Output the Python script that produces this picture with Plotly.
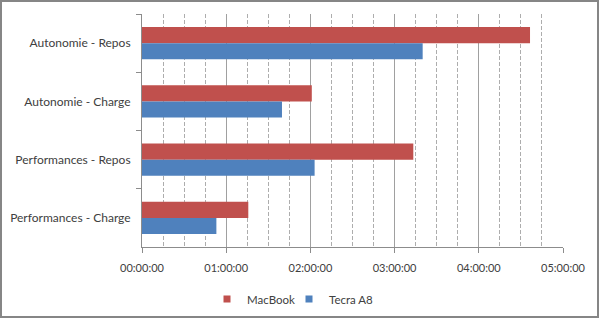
import plotly.graph_objects as go

categories = ["Autonomie - Repos", "Autonomie - Charge", "Performances - Repos", "Performances - Charge"]
macbook = ["04:36:30", "02:01:00", "03:13:20", "01:15:45"]
tecra = ["03:20:00", "01:39:45", "02:03:00", "00:53:00"]
series_names = ["MacBook", "Tecra A8"]
series_colors = ["#C0504D", "#4F81BD"]
tick_hours = [0, 1, 2, 3, 4, 5]
tick_labels = ["00:00:00", "01:00:00", "02:00:00", "03:00:00", "04:00:00", "05:00:00"]


def to_hours(s):
    h, m, sec = (int(p) for p in s.split(":"))
    return h + m / 60 + sec / 3600


W, H = 600, 319
L, R, T, B = 142, 37, 14, 72
pw, ph = W - L - R, H - T - B

fig = go.Figure()
for name, vals, col in zip(series_names, [macbook, tecra], series_colors):
    fig.add_trace(go.Bar(y=categories, x=[to_hours(v) for v in vals], orientation="h",
                         name=name, legendgroup=name, showlegend=False,
                         marker=dict(color=col, line=dict(width=0))))
legend_ids = ["legend", "legend2"]
for name, col, lg in zip(series_names, series_colors, legend_ids):
    fig.add_trace(go.Scatter(x=[None], y=[None], mode="markers", name=name, legendgroup=name,
                             legend=lg, marker=dict(symbol="square", size=7, color=col)))

font_color = "#404040"
legend_y = -(299 - (H - B)) / ph
legend_common = dict(orientation="h", xanchor="left", y=legend_y, yanchor="middle",
                     font=dict(size=11.5, color=font_color), itemwidth=30,
                     bgcolor="rgba(0,0,0,0)")
fig.update_layout(
    width=W, height=H,
    margin=dict(l=L, r=R, t=T, b=B, autoexpand=False),
    paper_bgcolor="white", plot_bgcolor="white",
    font=dict(family="Lato", size=11.5, color=font_color),
    barmode="group", bargap=0.45, bargroupgap=0,
    legend=dict(x=(207 - L) / pw, **legend_common),
    legend2=dict(x=(289 - L) / pw, **legend_common),
    showlegend=True,
)
fig.update_xaxes(
    range=[0, 5], tickvals=tick_hours, ticktext=tick_labels,
    tickfont=dict(size=11),
    showgrid=True, gridcolor="#A0A0A0", gridwidth=1,
    minor=dict(dtick=0.25, tick0=0, showgrid=True, gridcolor="#ADADAD",
               griddash="4px,2px", gridwidth=1),
    showline=True, linecolor="#8C8C8C", linewidth=1,
    ticks="outside", ticklen=5, tickcolor="#8C8C8C",
    ticklabelstandoff=6,
    zeroline=False, fixedrange=True,
)
fig.update_yaxes(
    autorange="reversed", tickson="boundaries",
    tickfont=dict(size=12),
    showgrid=False, showline=True, linecolor="#8C8C8C", linewidth=1,
    ticks="outside", ticklen=5, tickcolor="#8C8C8C",
    ticklabelstandoff=8,
)

fig.add_shape(type="rect", xref="paper", yref="paper",
              x0=(1 - L) / pw, x1=(W - 2 - L) / pw,
              y0=-(B - 2) / ph, y1=1 + (T - 1) / ph,
              line=dict(color="#868686", width=2), fillcolor="rgba(0,0,0,0)", layer="above")

fig.write_html("out.html")
